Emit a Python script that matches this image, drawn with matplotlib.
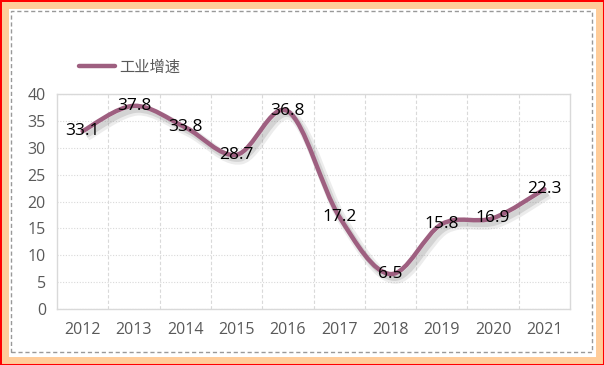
import matplotlib
matplotlib.use("Agg")
import matplotlib.pyplot as plt
import matplotlib.patheffects as pe
from matplotlib.path import Path
from matplotlib.patches import PathPatch, Rectangle
from matplotlib.lines import Line2D

YEARS = ["2012", "2013", "2014", "2015", "2016", "2017", "2018", "2019", "2020", "2021"]
GROWTH = [33.1, 37.8, 33.8, 28.7, 36.8, 17.2, 6.5, 15.8, 16.9, 22.3]
SERIES_NAME = "工业增速"

LINE_C = "#9E5F80"
TEXT_C = "#595959"
GRID_C = "#D9D9D9"
NUM_FONT = ["Open Sans", "DejaVu Sans"]

plt.rcParams["font.family"] = ["Noto Sans CJK SC", "DejaVu Sans"]


def smooth_path(xs, ys):
    # Excel-style smoothed line: cubic bezier segments with Catmull-Rom control points
    n = len(xs)
    pts = list(zip(xs, ys))
    verts = [pts[0]]
    codes = [Path.MOVETO]
    for i in range(n - 1):
        p0 = pts[i - 1] if i > 0 else pts[i]
        p1, p2 = pts[i], pts[i + 1]
        p3 = pts[i + 2] if i + 2 < n else pts[i + 1]
        c1 = (p1[0] + (p2[0] - p0[0]) / 6, p1[1] + (p2[1] - p0[1]) / 6)
        c2 = (p2[0] - (p3[0] - p1[0]) / 6, p2[1] - (p3[1] - p1[1]) / 6)
        verts += [c1, c2, p2]
        codes += [Path.CURVE4] * 3
    return Path(verts, codes)


fig = plt.figure(figsize=(6.04, 3.65), dpi=100)

# frame: red outer line, peach band, dashed inner box
fig.patches.append(Rectangle((0, 0), 1, 1, transform=fig.transFigure,
                             facecolor="none", edgecolor="#FF0000", lw=3))
fig.patches.append(Rectangle((5 / 604, 5 / 365), 594 / 604, 355 / 365,
                             transform=fig.transFigure, facecolor="none",
                             edgecolor="#FFCC99", lw=5))
fig.patches.append(Rectangle((11 / 604, 13 / 365), 581 / 604, 341 / 365,
                             transform=fig.transFigure, facecolor="none",
                             edgecolor="#999999", lw=1, ls=(0, (3, 2))))

ax = fig.add_axes([57 / 604, 1 - 309 / 365, 513 / 604, 215 / 365])
x = list(range(len(YEARS)))

shadow = PathPatch(smooth_path(x, GROWTH), facecolor="none", edgecolor="none", zorder=2.5,
                   path_effects=[pe.SimpleLineShadow(offset=(3, -3.5), shadow_color="#9a9a9a",
                                                     alpha=0.18, linewidth=7),
                                 pe.SimpleLineShadow(offset=(2.5, -3), shadow_color="#8a8a8a",
                                                     alpha=0.25, linewidth=4)])
ax.add_patch(shadow)
line = PathPatch(smooth_path(x, GROWTH), facecolor="none", edgecolor=LINE_C,
                 lw=3.2, capstyle="round", joinstyle="round", zorder=3)
ax.add_patch(line)

for xi, v in zip(x, GROWTH):
    ax.text(xi, v, f"{v}", ha="center", va="center", fontsize=12.5, color="black",
            family=NUM_FONT, zorder=4)

ax.set_xlim(-0.5, len(YEARS) - 0.5)
ax.set_ylim(0, 40)
ax.set_yticks(range(0, 41, 5))
ax.set_xticks(x)
ax.set_xticklabels(YEARS)
ax.set_xticks([i + 0.5 for i in x[:-1]], minor=True)
for lab in ax.get_xticklabels() + ax.get_yticklabels():
    lab.set_family(NUM_FONT)
ax.tick_params(axis="both", which="both", length=0, colors=TEXT_C, labelsize=11.5)
ax.tick_params(axis="x", pad=9)
ax.tick_params(axis="y", pad=8)
ax.grid(axis="y", which="major", color=GRID_C, ls=(0, (1, 1.5)), lw=0.8)
ax.grid(axis="x", which="minor", color=GRID_C, ls=(0, (3, 2)), lw=0.8)
for s in ax.spines.values():
    s.set_color(GRID_C)
    s.set_linewidth(1)

handle = Line2D([], [], color=LINE_C, lw=3.2, solid_capstyle="round")
fig.legend([handle], [SERIES_NAME], loc="center left",
           bbox_to_anchor=(65 / 604, 1 - 67 / 365), frameon=False,
           fontsize=11, labelcolor=TEXT_C, handlelength=2.4, handletextpad=0.25)

fig.savefig("out.png", dpi=100)
